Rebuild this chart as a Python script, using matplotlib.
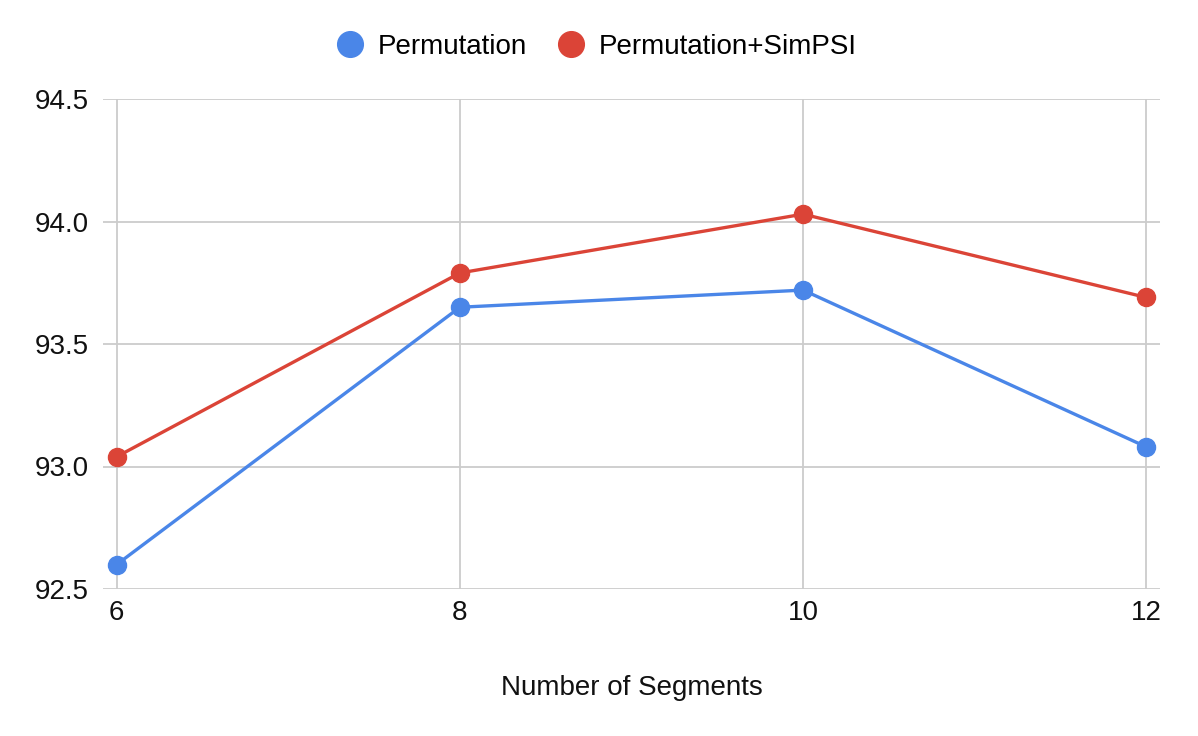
import matplotlib
matplotlib.use("Agg")
import matplotlib.pyplot as plt
from matplotlib.lines import Line2D

segments = [6, 8, 10, 12]
permutation = [92.60, 93.65, 93.72, 93.08]
permutation_simpsi = [93.04, 93.79, 94.03, 93.69]
series_names = ["Permutation", "Permutation+SimPSI"]
colors = ["#4a86e8", "#db4437"]
yticks = [92.5, 93.0, 93.5, 94.0, 94.5]

plt.rcParams['font.family'] = ['Liberation Sans', 'DejaVu Sans']

fig = plt.figure(figsize=(11.98, 7.36), dpi=100)
ax = fig.add_axes([103/1198, 1-589/736, (1160-103)/1198, (589-99)/736])

for vals, c, name in zip([permutation, permutation_simpsi], colors, series_names):
    ax.plot(segments, vals, color=c, lw=2.4, marker='o', ms=13, label=name,
            solid_capstyle='round', zorder=3, clip_on=False)

ax.set_xlim(5.92, 12.08)
ax.set_ylim(92.5, 94.5)
ax.set_xticks(segments)
ax.set_xticklabels([str(s) for s in segments])
ax.set_yticks(yticks)
ax.set_yticklabels([f"{v:.1f}" for v in yticks])
ax.grid(True, color="#cccccc", lw=1.3)
ax.set_axisbelow(True)
for s in ax.spines.values():
    s.set_visible(False)
ax.tick_params(length=0, labelsize=20, colors="#111111")
ax.tick_params(axis='y', pad=10)
ax.tick_params(axis='x', pad=8)
ax.set_xlabel("Number of Segments", fontsize=20, color="#111111", va='center')
ax.xaxis.set_label_coords(0.5, (589-688)/490)

handles = [Line2D([], [], ls='none', marker='o', ms=18.5, color=c) for c in colors]
fig.legend(handles, series_names, loc='center', bbox_to_anchor=(596.5/1198, 1-47/736),
           ncol=2, frameon=False, fontsize=20, handletextpad=0.5, columnspacing=1.1,
           handlelength=1.0)

fig.savefig("out.png", dpi=100, facecolor="white")
